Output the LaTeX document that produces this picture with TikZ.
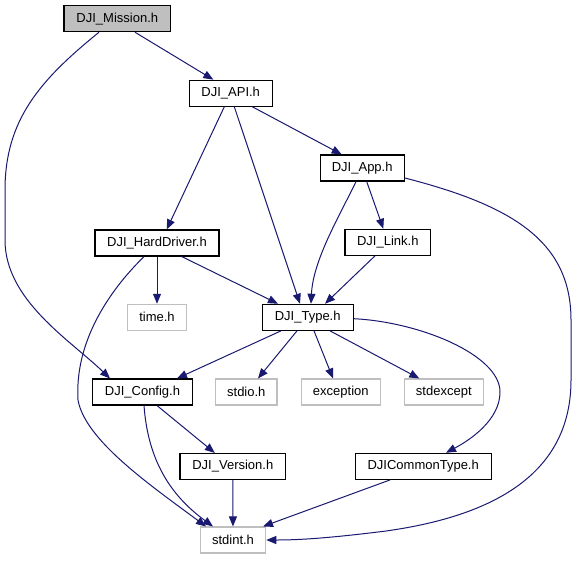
\documentclass[tikz,border=0pt]{standalone}
\usepackage{fontspec}
\setmainfont{Liberation Sans}
\usepackage{xcolor}
\usepackage{tikz}
\usetikzlibrary{arrows.meta}
\definecolor{edge}{HTML}{191970}
\definecolor{extgray}{HTML}{BFBFBF}
\definecolor{rootfill}{HTML}{BFBFBF}

\begin{document}
\begin{tikzpicture}[
    x=1pt, y=-1pt,
    incbox/.style={
        rectangle, draw=black, fill=white, text=black,
        minimum height=26pt, inner sep=0pt,
        font=\fontsize{13}{15}\selectfont, line width=1.1pt,
    },
    rootbox/.style={incbox, fill=rootfill},
    extbox/.style={incbox, draw=extgray},
    arrow/.style={-{Triangle[length=10pt,width=8pt]}, line width=1pt, color=edge},
]
\useasboundingbox (0,0) rectangle (577,560);

% Nodes
\node[rootbox, minimum width=106.7pt] (mission) at (117.3,18.7) {DJI\_Mission.h};
\node[incbox, minimum width=83.3pt] (api) at (230.7,93.2) {DJI\_API.h};
\node[incbox, minimum width=84.3pt] (app) at (362.2,168) {DJI\_App.h};
\node[incbox, minimum width=124pt] (hd) at (157,243) {DJI\_HardDriver.h};
\node[incbox, minimum width=85.7pt] (link) at (387.8,242.3) {DJI\_Link.h};
\node[extbox, minimum width=59pt] (time) at (157,317.3) {time.h};
\node[incbox, minimum width=91.3pt] (type) at (307.7,317.3) {DJI\_Type.h};
\node[incbox, minimum width=99.6pt] (config) at (142.5,392) {DJI\_Config.h};
\node[extbox, minimum width=61.3pt] (stdio) at (246.3,392) {stdio.h};
\node[extbox, minimum width=79pt] (exception) at (340.8,392) {exception};
\node[extbox, minimum width=79pt] (stdexcept) at (443.8,392) {stdexcept};
\node[incbox, minimum width=105.7pt] (version) at (232.8,466.5) {DJI\_Version.h};
\node[incbox, minimum width=135.7pt] (ct) at (423.2,466.3) {DJICommonType.h};
\node[extbox, minimum width=65.4pt] (stdint) at (233,540) {stdint.h};

% Edges
\draw[arrow] ([xshift=17.7pt]mission.south) -- ([xshift=-17.4pt]api.north);
\draw[arrow] ([xshift=-18.3pt]mission.south) .. controls (40,80) and (5,120) .. (5,190)
    -- (5,240) .. controls (5,300) and (70,340) .. ([xshift=-32.5pt]config.north);
\draw[arrow] ([xshift=-6.4pt]api.south) -- ([xshift=9.7pt]hd.north);
\draw[arrow] ([xshift=3.6pt]api.south) -- ([xshift=-7.7pt]type.north);
\draw[arrow] ([xshift=21.6pt]api.south) -- ([xshift=-20.5pt]app.north);
\draw[arrow] ([xshift=-6.2pt]app.south) .. controls (340,215) and (313,260) .. ([xshift=3.3pt]type.north);
\draw[arrow] ([xshift=4.5pt]app.south) -- ([xshift=-4.5pt]link.north);
\draw[arrow] ([yshift=-10pt]app.east) .. controls (510,205) and (571,240) .. (571,320)
    -- (571,380) .. controls (571,470) and (500,515) .. (386,531)
    .. controls (330,538) and (300,540) .. (stdint.east);
\draw[arrow] (hd) -- (time);
\draw[arrow] ([xshift=24.7pt]hd.south) -- ([xshift=-29.7pt]type.north);
\draw[arrow] ([xshift=-13pt]hd.south) .. controls (100,300) and (75,350) .. (78,400)
    .. controls (85,440) and (150,485) .. ([xshift=-27pt]stdint.north);
\draw[arrow] ([xshift=-12.8pt]link.south) -- ([xshift=17.3pt]type.north);
\draw[arrow] ([xshift=-26.7pt]type.south) -- ([xshift=34.5pt]config.north);
\draw[arrow] ([xshift=-10.7pt]type.south) -- ([xshift=11.7pt]stdio.north);
\draw[arrow] ([xshift=6.3pt]type.south) -- ([xshift=-7.8pt]exception.north);
\draw[arrow] ([xshift=22.3pt]type.south) -- ([xshift=-24.5pt]stdexcept.north);
\draw[arrow] ([yshift=-1.4pt]type.east) .. controls (420,322) and (500,355) .. (500,392)
    .. controls (500,420) and (470,440) .. ([xshift=22.8pt]ct.north);
\draw[arrow] ([xshift=14.5pt]config.south) -- ([xshift=-18pt]version.north);
\draw[arrow] ([xshift=1.5pt]config.south) .. controls (148,460) and (170,495) .. ([xshift=-20pt]stdint.north);
\draw[arrow] (version) -- (stdint);
\draw[arrow] ([xshift=-33pt]ct.south) -- ([xshift=30pt]stdint.north);

\end{tikzpicture}
\end{document}
